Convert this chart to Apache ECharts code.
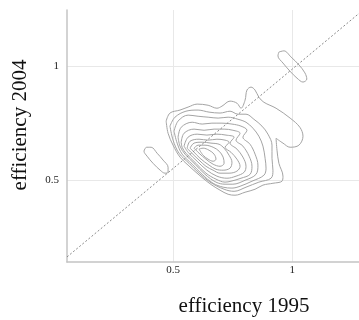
<!DOCTYPE html>
<html>
<head>
<meta charset="utf-8">
<script src="https://cdn.jsdelivr.net/npm/echarts@6/dist/echarts.min.js"></script>
<style>html,body{margin:0;padding:0;background:#fff}#c{width:359px;height:320px}</style>
</head>
<body>
<div id="c"></div>
<script>
// axis ticks
var xTicks = [0.5, 1];
var yTicks = [0.5, 1];
var xTitle = 'efficiency 1995';
var yTitle = 'efficiency 2004';
// diagonal reference line end points
var diagonal = [[0.055, 0.167], [1.28, 1.228]];
// contour rings (efficiency 1995, efficiency 2004), outer to inner
var ring0 = [[0.471,0.759],[0.487,0.794],[0.529,0.807],[0.563,0.820],[0.601,0.833],[0.647,0.828],[0.684,0.815],[0.705,0.824],[0.739,0.846],[0.768,0.837],[0.785,0.815],[0.802,0.850],[0.810,0.894],[0.827,0.907],[0.844,0.894],[0.860,0.863],[0.881,0.841],[0.932,0.815],[0.991,0.772],[1.032,0.732],[1.045,0.693],[1.028,0.654],[0.991,0.645],[0.961,0.663],[0.932,0.684],[0.936,0.632],[0.944,0.575],[0.961,0.519],[0.957,0.497],[0.919,0.488],[0.877,0.480],[0.844,0.462],[0.802,0.449],[0.760,0.436],[0.731,0.440],[0.697,0.458],[0.663,0.480],[0.630,0.506],[0.596,0.536],[0.563,0.567],[0.529,0.602],[0.500,0.654],[0.479,0.706]];
var ring1 = [[0.487,0.737],[0.508,0.776],[0.554,0.802],[0.605,0.807],[0.651,0.798],[0.697,0.794],[0.739,0.802],[0.772,0.789],[0.806,0.789],[0.839,0.767],[0.873,0.737],[0.898,0.702],[0.915,0.654],[0.915,0.597],[0.919,0.545],[0.911,0.510],[0.860,0.493],[0.806,0.471],[0.756,0.453],[0.714,0.462],[0.655,0.493],[0.609,0.532],[0.567,0.575],[0.525,0.619],[0.500,0.676]];
var ring2 = [[0.504,0.715],[0.521,0.759],[0.563,0.785],[0.605,0.780],[0.647,0.776],[0.689,0.772],[0.731,0.776],[0.772,0.767],[0.806,0.754],[0.835,0.728],[0.860,0.693],[0.877,0.650],[0.886,0.597],[0.890,0.554],[0.881,0.523],[0.831,0.497],[0.781,0.475],[0.747,0.467],[0.710,0.471],[0.668,0.488],[0.622,0.527],[0.580,0.571],[0.538,0.615],[0.517,0.663]];
var ring3 = [[0.521,0.689],[0.534,0.732],[0.580,0.754],[0.622,0.746],[0.663,0.750],[0.705,0.750],[0.747,0.746],[0.785,0.737],[0.810,0.719],[0.793,0.689],[0.823,0.658],[0.844,0.615],[0.856,0.567],[0.848,0.527],[0.802,0.501],[0.751,0.484],[0.718,0.484],[0.680,0.493],[0.634,0.527],[0.592,0.571],[0.550,0.615],[0.529,0.650]];
var ring4 = [[0.534,0.667],[0.546,0.706],[0.588,0.724],[0.630,0.719],[0.672,0.724],[0.714,0.724],[0.751,0.719],[0.781,0.706],[0.764,0.676],[0.793,0.650],[0.819,0.606],[0.831,0.562],[0.823,0.527],[0.785,0.510],[0.743,0.497],[0.718,0.493],[0.680,0.506],[0.638,0.532],[0.596,0.575],[0.554,0.619],[0.538,0.645]];
var ring5 = [[0.546,0.650],[0.563,0.689],[0.601,0.702],[0.642,0.698],[0.684,0.702],[0.722,0.698],[0.756,0.689],[0.739,0.663],[0.768,0.637],[0.793,0.602],[0.806,0.562],[0.798,0.536],[0.764,0.519],[0.726,0.510],[0.684,0.519],[0.642,0.545],[0.601,0.584],[0.563,0.623]];
var ring6 = [[0.559,0.641],[0.571,0.671],[0.609,0.680],[0.647,0.676],[0.684,0.680],[0.718,0.676],[0.735,0.667],[0.718,0.645],[0.743,0.623],[0.768,0.593],[0.781,0.562],[0.768,0.541],[0.735,0.532],[0.697,0.532],[0.668,0.545],[0.638,0.562],[0.609,0.589],[0.575,0.623]];
var ring7 = [[0.571,0.641],[0.588,0.663],[0.622,0.667],[0.659,0.663],[0.693,0.658],[0.714,0.641],[0.735,0.610],[0.747,0.580],[0.739,0.554],[0.710,0.545],[0.680,0.549],[0.651,0.567],[0.613,0.597],[0.584,0.628]];
var ring8 = [[0.588,0.641],[0.605,0.654],[0.634,0.654],[0.668,0.645],[0.693,0.628],[0.710,0.602],[0.714,0.575],[0.697,0.562],[0.668,0.571],[0.638,0.593],[0.609,0.619]];
var ring9 = [[0.609,0.637],[0.626,0.641],[0.651,0.632],[0.672,0.615],[0.680,0.593],[0.668,0.584],[0.647,0.593],[0.626,0.610]];
// small separate modes
var leftMode = [[0.387,0.645],[0.408,0.645],[0.433,0.619],[0.458,0.589],[0.479,0.558],[0.479,0.536],[0.466,0.532],[0.446,0.545],[0.416,0.575],[0.391,0.606],[0.378,0.628]];
var topMode = [[0.944,1.060],[0.965,1.065],[0.995,1.038],[1.028,1.004],[1.053,0.969],[1.061,0.942],[1.045,0.929],[1.020,0.946],[0.990,0.977],[0.961,1.012],[0.940,1.043]];

var rings = [ring0, ring1, ring2, ring3, ring4, ring5, ring6, ring7, ring8, ring9, leftMode, topMode];

var series = rings.map(function (r) {
  return {
    type: 'line',
    data: r.concat([r[0]]),
    showSymbol: false,
    smooth: 0.35,
    silent: true,
    lineStyle: { color: '#a4a4a4', width: 1 },
    z: 3
  };
});
series.push({
  type: 'line',
  data: diagonal,
  showSymbol: false,
  silent: true,
  lineStyle: { color: '#8a8a8a', width: 1, type: [2, 2] },
  z: 4
});

var chart = echarts.init(document.getElementById('c'), null, { renderer: 'canvas' });
chart.setOption({
  animation: false,
  backgroundColor: '#fff',
  grid: { left: 67, top: 10, right: 0, bottom: 58 },
  xAxis: {
    type: 'value', min: 0.055, max: 1.28,
    axisLine: { show: true, lineStyle: { color: '#c4c4c4', width: 1.5 } },
    axisTick: { show: false, customValues: xTicks },
    axisLabel: { customValues: xTicks, color: '#222', fontFamily: 'Liberation Serif', fontSize: 11, margin: 3 },
    splitLine: { show: true, lineStyle: { color: '#e8e8e8', width: 1 } }
  },
  yAxis: {
    type: 'value', min: 0.145, max: 1.243,
    axisLine: { show: true, lineStyle: { color: '#c4c4c4', width: 1.5 } },
    axisTick: { show: false, customValues: yTicks },
    axisLabel: { customValues: yTicks, color: '#222', fontFamily: 'Liberation Serif', fontSize: 11, margin: 8 },
    splitLine: { show: true, lineStyle: { color: '#e8e8e8', width: 1 } }
  },
  graphic: [
    { type: 'text', x: 244, y: 306, style: { text: xTitle, fill: '#111', font: '21px "Liberation Serif"', textAlign: 'center', textVerticalAlign: 'middle' } },
    { type: 'text', x: 20, y: 125, rotation: Math.PI / 2, style: { text: yTitle, fill: '#111', font: '21px "Liberation Serif"', textAlign: 'center', textVerticalAlign: 'middle' } }
  ],
  series: series
});
</script>
</body>
</html>
